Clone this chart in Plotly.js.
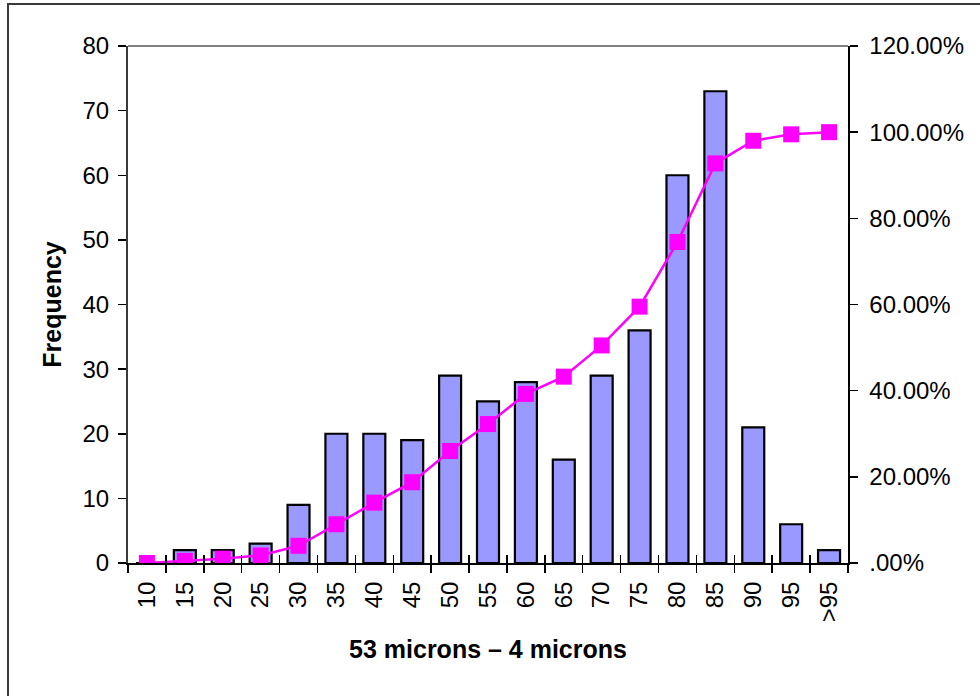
<!DOCTYPE html>
<html>
<head>
<meta charset="utf-8">
<script src="https://cdn.plot.ly/plotly-3.0.1.min.js"></script>
<style>
  html, body { margin: 0; padding: 0; background: #fff; }
  #wrap { position: relative; width: 980px; height: 696px; overflow: hidden; }
  #chart { position: absolute; left: 0; top: 0; width: 980px; height: 696px; }
  #frame { position: absolute; left: 7px; top: 3px; width: 1000px; height: 720px;
           border: 2px solid #3a3a3a; pointer-events: none; }
</style>
</head>
<body>
<div id="wrap">
  <div id="chart"></div>
  <div id="frame"></div>
</div>
<script>
// Particle size bins (microns) and their counts
const bins = ['10','15','20','25','30','35','40','45','50','55','60','65','70','75','80','85','90','95','>95'];
const frequency = [0, 2, 2, 3, 9, 20, 20, 19, 29, 25, 28, 16, 29, 36, 60, 73, 21, 6, 2];
// Cumulative share of particles up to each bin
const cumulative = [0, 0.005, 0.01, 0.0175, 0.04, 0.09, 0.14, 0.1875, 0.26, 0.3225, 0.3925,
                    0.4325, 0.505, 0.595, 0.745, 0.9275, 0.98, 0.995, 1.0];
// Right-axis tick values and labels
const pctTicks = [0, 0.2, 0.4, 0.6, 0.8, 1.0, 1.2];
const pctLabels = ['.00%', '20.00%', '40.00%', '60.00%', '80.00%', '100.00%', '120.00%'];

const FONT = 'Liberation Sans, Arial, Helvetica, sans-serif';
const catRange = [-0.5, bins.length - 0.5];

const traces = [
  {
    type: 'bar', x: bins, y: frequency, xaxis: 'x', yaxis: 'y',
    marker: { color: '#9999FF', line: { color: '#000000', width: 2.2 } },
    hoverinfo: 'x+y'
  },
  {
    type: 'scatter', mode: 'lines+markers', x: bins, y: cumulative,
    xaxis: 'x2', yaxis: 'y2',
    line: { color: '#FF00FF', width: 2.5 },
    marker: { symbol: 'square', size: 16, color: '#FF00FF' },
    hoverinfo: 'x+y'
  }
];

const layout = {
  width: 980, height: 696,
  margin: { l: 128, r: 132, t: 46, b: 133 },
  paper_bgcolor: '#ffffff', plot_bgcolor: '#ffffff',
  showlegend: false,
  bargap: 0.42,
  font: { family: FONT, color: '#000', size: 24 },
  xaxis: {
    type: 'category', range: catRange, tickson: 'boundaries',
    ticks: 'outside', ticklen: 8, tickwidth: 1.5, tickcolor: '#000',
    showline: true, linecolor: '#000', linewidth: 2,
    tickangle: -90, tickfont: { size: 24, family: FONT },
    ticklabelstandoff: 7,
    showgrid: false, zeroline: false,
    title: { text: '<b>53 microns \u2013 4 microns</b>', font: { size: 25, family: FONT }, standoff: 19 }
  },
  xaxis2: {
    type: 'category', range: catRange, overlaying: 'x', anchor: 'y2', side: 'bottom', tickson: 'boundaries',
    ticks: 'inside', ticklen: 8, tickwidth: 1.5, tickcolor: '#000',
    showticklabels: false, showline: false, showgrid: false, zeroline: false
  },
  yaxis: {
    range: [0, 80], dtick: 10,
    ticks: 'outside', ticklen: 8, tickwidth: 1.5, tickcolor: '#000',
    showline: true, linecolor: '#3a3a3a', linewidth: 2,
    showgrid: false, zeroline: false,
    ticklabelstandoff: 4,
    tickfont: { size: 24, family: FONT },
    title: { text: '<b>Frequency</b>', font: { size: 25, family: FONT }, standoff: 14 }
  },
  yaxis3: {
    range: [0, 80], dtick: 10, overlaying: 'y', side: 'left', anchor: 'x',
    ticks: 'inside', ticklen: 8, tickwidth: 1.5, tickcolor: '#000',
    showticklabels: false, showline: false, showgrid: false, zeroline: false
  },
  yaxis2: {
    range: [0, 1.2], overlaying: 'y', side: 'right', anchor: 'x',
    tickmode: 'array', tickvals: pctTicks, ticktext: pctLabels,
    ticks: 'outside', ticklen: 8, tickwidth: 1.5, tickcolor: '#000',
    showline: true, linecolor: '#000', linewidth: 1.5,
    showgrid: false, zeroline: false,
    ticklabelstandoff: 7,
    tickfont: { size: 24, family: FONT }
  },
  yaxis4: {
    range: [0, 1.2], overlaying: 'y', side: 'right', anchor: 'x',
    tickmode: 'array', tickvals: pctTicks,
    ticks: 'inside', ticklen: 8, tickwidth: 1.5, tickcolor: '#000',
    showticklabels: false, showline: false, showgrid: false, zeroline: false
  },
  shapes: [
    // grey top edge of the plotting area
    { type: 'line', xref: 'paper', yref: 'paper', x0: 0, x1: 1, y0: 1, y1: 1,
      line: { color: '#808080', width: 2 } }
  ]
};

Plotly.newPlot('chart', traces, layout, { staticPlot: true, displayModeBar: false });
</script>
</body>
</html>
